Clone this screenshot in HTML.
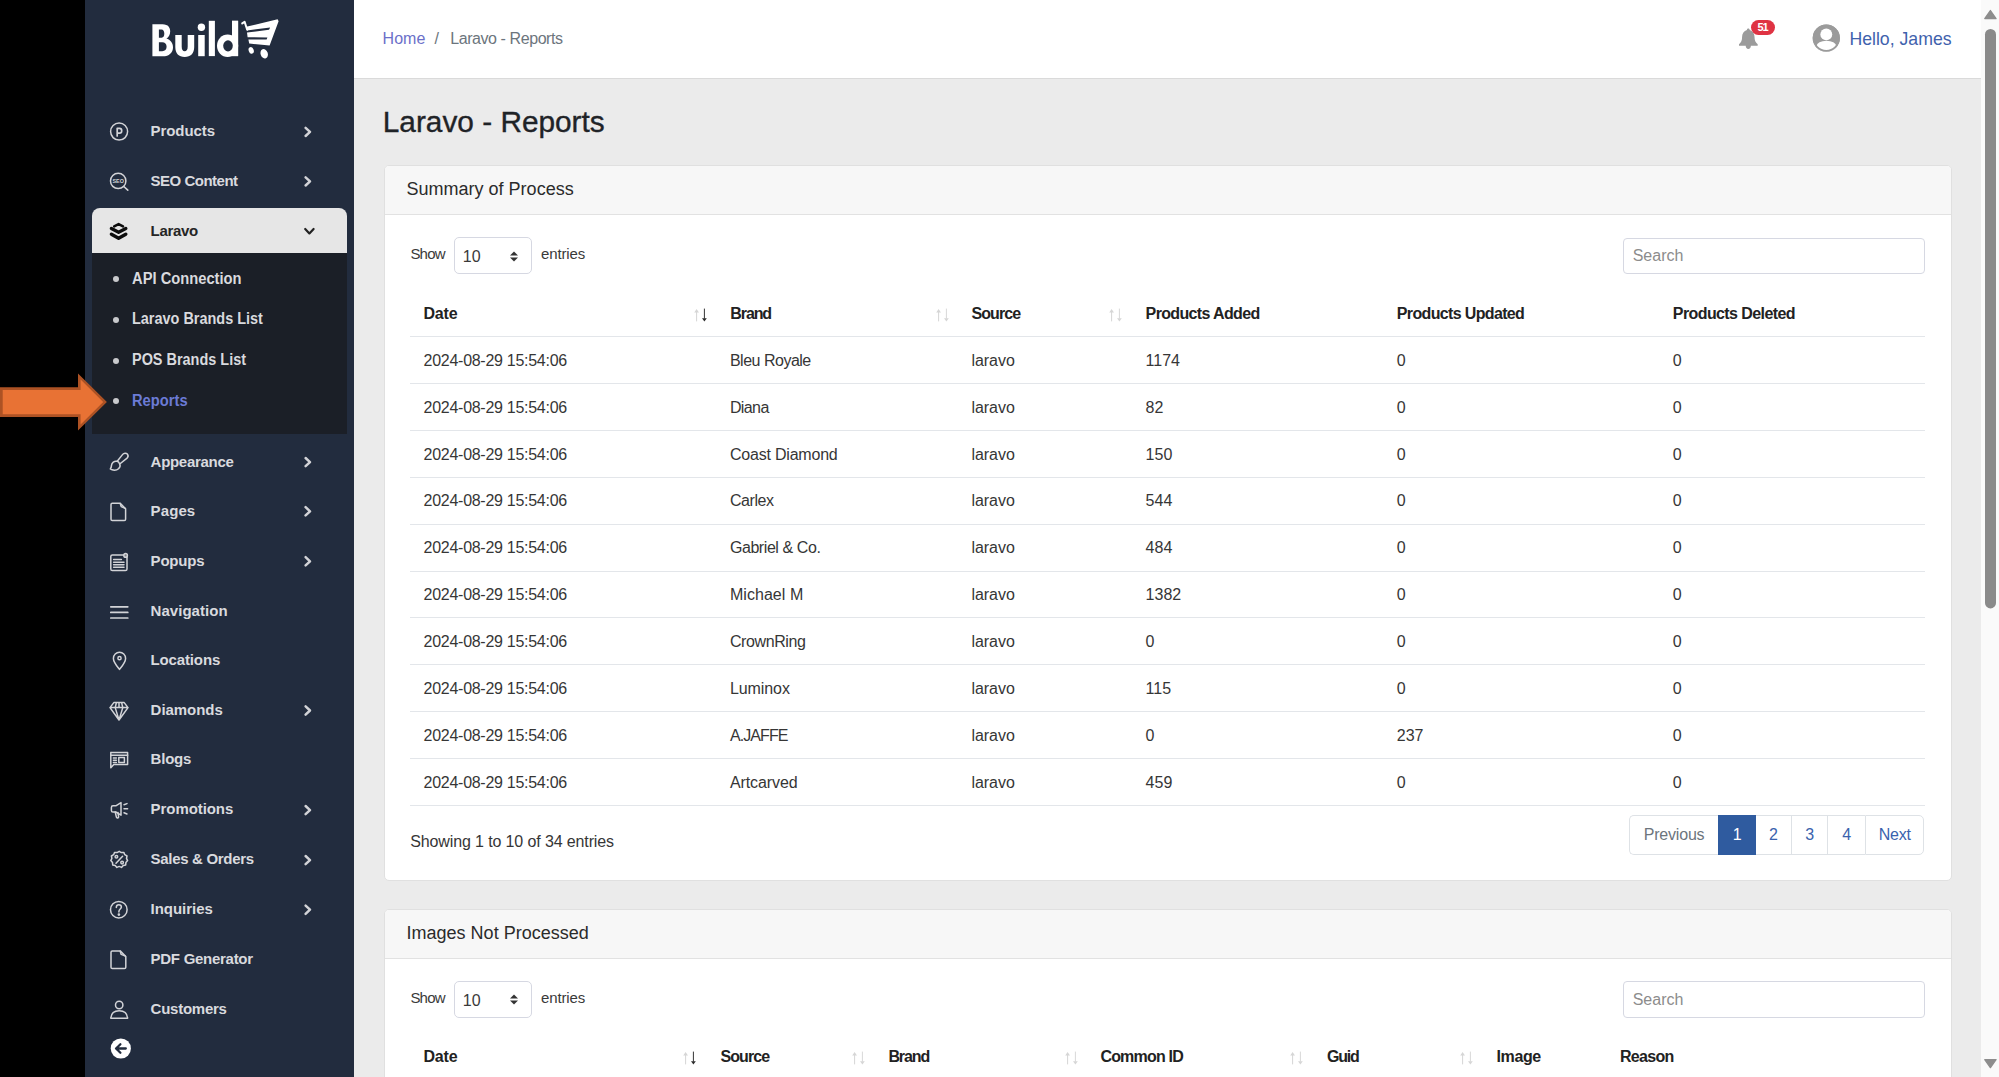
<!DOCTYPE html>
<html><head><meta charset="utf-8"><title>Laravo - Reports</title>
<style>
*{box-sizing:border-box;margin:0;padding:0}
html,body{width:1999px;height:1077px;overflow:hidden;background:#000;font-family:"Liberation Sans",sans-serif;}
#sb{position:absolute;left:85px;top:0;width:269px;height:1077px;background:#222c3e;overflow:hidden}
#sbsvg{position:absolute;left:0;top:0}
#actbox{position:absolute;left:7px;top:207.7px;width:255.3px;height:45.7px;background:#e6e6e6;border-radius:8px 8px 0 0}
#subbg{position:absolute;left:7px;top:253.4px;width:255.3px;height:181px;background:#1b1f27}
.mt{position:absolute;left:65.6px;height:20px;line-height:20px;font-size:15px;font-weight:bold;color:#d9dade;white-space:nowrap;letter-spacing:-0.15px}
.mt.dk{color:#252525}
.st{position:absolute;left:46.8px;height:20px;line-height:20px;font-size:15px;font-weight:bold;color:#d9dade;white-space:nowrap;letter-spacing:-0.15px}
.st.act{color:#6f7fe0;font-weight:normal;letter-spacing:0}
.bul{position:absolute;left:27.6px;width:6px;height:6px;border-radius:50%;background:#c8c9cc}
#arrow{position:absolute;left:0;top:372px}
#main{position:absolute;left:354px;top:0;width:1627px;height:1077px;background:#ebebeb}
#hdr{position:absolute;left:354px;top:0;width:1627px;height:79px;background:#fff;border-bottom:1px solid #dadada}
.tx{position:absolute;white-space:nowrap}
.abs{position:absolute}
.card{position:absolute;left:384px;width:1568px;background:#fff;border:1px solid #e0e0e0;border-radius:5px}
.chd{position:absolute;left:385px;width:1566px;height:49px;background:#f7f7f7;border-bottom:1px solid #e2e2e2;border-radius:4px 4px 0 0}
.sel{position:absolute;left:454.4px;width:78px;height:36.8px;border:1px solid #d6d8e2;border-radius:5px;background:#fff}
.srch{position:absolute;left:1623px;width:302px;height:36.6px;border:1px solid #d6d8e2;border-radius:4px;background:#fff}
.ln{position:absolute;left:410px;width:1515px;height:1px;background:#e3e6ea}
.pag{position:absolute;left:1629.4px;height:39.5px;width:295.1px;display:flex;background:transparent}
.pi{height:100%;border:1px solid #dee2e6;border-right:0;background:#fff;text-align:center;font-size:16px;line-height:37.5px;color:#3a62ad;letter-spacing:-0.2px}
.pi.on{background:#2f5b9f;color:#fff;border-color:#2f5b9f}
#scr{position:absolute;left:1981px;top:0;width:18px;height:1077px;background:#fafafa}
</style></head><body>
<div id="sb">
<div id="actbox"></div><div id="subbg"></div>

<svg id="sbsvg" width="269" height="1077" viewBox="85 0 269 1077">
 <!-- logo -->
 <g fill="#fff">
  <path fill-rule="evenodd" d="M152.4 24.2 H162.5 C168.5 24.2 170.2 28 170.2 31.2 C170.2 34.6 168.6 37.4 166.4 38.6 C170.4 39.8 173 43 173 47.4 C173 52.6 169.2 56.2 162.8 56.2 H152.4 Z M158.9 29.4 V37.7 H161.6 C163.6 37.7 164.3 35.8 164.3 33.5 C164.3 31.2 163.4 29.4 161.4 29.4 Z M158.9 42.3 V51.2 H162.2 C165 51.2 166.6 49.6 166.6 46.8 C166.6 44 165 42.3 162.2 42.3 Z"/>
  <path d="M175.3 35 H181.7 V46.5 C181.7 49.8 182.8 51.2 184.7 51.2 C186.6 51.2 187.7 49.8 187.7 46.5 V35 H194.2 V47 C194.2 53.5 190.6 57 184.7 57 C178.8 57 175.3 53.5 175.3 47 Z"/>
  <rect x="198.2" y="35" width="6.5" height="21.2"/>
  <circle cx="201.4" cy="27.2" r="3.7"/>
  <rect x="208.8" y="20.8" width="6.1" height="35.3"/>
  <rect x="232" y="20.8" width="6.1" height="35.3"/>
  <ellipse cx="227.6" cy="45.7" rx="10.6" ry="11.3"/><rect x="232" y="20.8" width="6.1" height="35.3"/><ellipse cx="228" cy="45.85" rx="4.8" ry="5.55" fill="#222c3e"/>
  <!-- cart -->
  <path d="M246.2 26.8 L277.6 19.2 L278.6 21.2 L269.6 45.6 L249.2 43.4 L248.4 39.6 L266.6 39.6 L267.4 37.6 L247.6 37.2 L247 32.6 L269 29.8 L270.2 27.6 L247 30.4 Z"/>
  <path d="M242.2 23.4 L244.6 21.8 L247.2 29.8" fill="none" stroke="#fff" stroke-width="2" stroke-linejoin="round" stroke-linecap="round"/>
  <ellipse cx="251.2" cy="50.4" rx="2.5" ry="3.4" transform="rotate(-20 251.2 50.4)"/>
  <ellipse cx="264.2" cy="53.8" rx="3.6" ry="4.8" transform="rotate(-20 264.2 53.8)"/>
 </g>
 <g fill="none" stroke="#d2d3d7" stroke-width="1.5" stroke-linecap="round" stroke-linejoin="round">
  <!-- products -->
  <circle cx="119.1" cy="131.6" r="8.5"/>
  <path d="M117.2 136 V128.3 H119.6 C121 128.3 121.7 129.3 121.7 130.7 C121.7 132.1 121 133.1 119.6 133.1 H117.2" stroke-width="1.7"/>
  <!-- seo -->
  <circle cx="118.2" cy="180.9" r="7.7"/>
  <path d="M123.8 186.5 L127.8 190.2" stroke-width="1.6"/>
  <!-- appearance brush -->
  <path d="M117.2 461.3 L122.7 454.4 C123.9 452.9 126.2 452.8 127.3 454.1 C128.4 455.4 128.1 457.3 126.8 458.4 L119.7 464"/>
  <path d="M117.2 461.3 C114.2 460.6 111.7 462.6 111.5 465.4 C111.4 467.1 110.9 468.2 110.3 468.9 C112.6 470.6 116.4 470.6 118.5 468.7 C120.2 467.1 120.4 465.3 119.7 464 C119.2 462.6 118.3 461.6 117.2 461.3 Z"/>
  <!-- pages -->
  <path d="M111 504.5 C111 503.7 111.5 503.2 112.3 503.2 H120.2 L125.6 508.8 V519.2 C125.6 520 125.1 520.5 124.3 520.5 H112.3 C111.5 520.5 111 520 111 519.2 Z"/>
  <path d="M120.2 503.6 L121.2 506.6 L125.2 508.4"/>
  <!-- popups -->
  <rect x="110.8" y="555" width="16.2" height="15.6" rx="1.6"/>
  <path d="M113.6 559.5 H121.4 M113.6 562.2 H124 M113.6 564.8 H124 M113.6 567.3 H124"/>
  <circle cx="125.6" cy="555.4" r="1.8" fill="#7d8088"/>
  <!-- navigation -->
  <path d="M110.8 606.8 H127.8 M110.8 612.4 H127.8 M110.8 618 H127.8" stroke-width="1.7"/>
  <!-- locations -->
  <path d="M119.5 669.4 C116.5 665.6 113.4 662 113.4 658.4 C113.4 654.8 116.2 652.2 119.5 652.2 C122.8 652.2 125.6 654.8 125.6 658.4 C125.6 662 122.5 665.6 119.5 669.4 Z"/>
  <circle cx="119.5" cy="658.2" r="1.6"/>
  <!-- diamonds -->
  <path d="M113.8 702.6 H124.2 L128 707.6 L119 720 L110 707.6 Z M110 707.6 H128 M116.4 702.6 L115.2 707.6 L119 720 L122.8 707.6 L121.6 702.6 M119 702.6 V707.6"/>
  <!-- blogs -->
  <path d="M111 752.4 H127.6 V764.6 H113.8 L110.8 767.8 V752.4"/>
  <path d="M111 755.2 H127.6" />
  <path d="M113.4 758 H116.4 M113.4 760.2 H116.4 M113.4 762.4 H116.4"/>
  <rect x="118.8" y="757.4" width="5.6" height="5.2"/>
  <!-- promotions -->
  <path d="M111.4 807.4 C111.4 806.4 112 805.8 113 805.8 H115.8 L121 802.6 V815.2 L115.8 812 H113 C112 812 111.4 811.4 111.4 810.4 Z"/>
  <path d="M115.2 812 L116.4 817.2 C116.6 818.2 118.6 818.2 118.6 817 L118 812.6"/>
  <path d="M124 804.8 L127 803.6 M124 808.8 H127.6 M124 812.8 L127 814"/>
  <!-- sales -->
  <path d="M119.2 851.3 L121.3 852.6 L123.8 852.4 L124.8 854.7 L127 856 L126.5 858.4 L127.6 860.6 L125.9 862.4 L125.7 864.9 L123.2 865.5 L121.5 867.4 L119.2 866.4 L116.9 867.4 L115.2 865.5 L112.7 864.9 L112.5 862.4 L110.8 860.6 L111.9 858.4 L111.4 856 L113.6 854.7 L114.6 852.4 L117.1 852.6 Z"/>
  <path d="M116 863.2 L122.6 856.2"/>
  <circle cx="116.4" cy="856.8" r="1.3"/>
  <circle cx="122.1" cy="862.6" r="1.3"/>
  <!-- inquiries -->
  <circle cx="118.8" cy="909.7" r="8.3"/>
  <path d="M116.3 907.4 C116.3 905.8 117.4 904.8 118.9 904.8 C120.4 904.8 121.4 905.8 121.4 907.1 C121.4 908.9 118.9 909.2 118.9 911.4 V912"/>
  <circle cx="118.9" cy="914.6" r="0.6" fill="#d2d3d7"/>
  <!-- pdf -->
  <path d="M111 952.2 C111 951.4 111.5 950.9 112.3 950.9 H120.2 L125.8 956.5 V967.3 C125.8 968.1 125.3 968.6 124.5 968.6 H112.3 C111.5 968.6 111 968.1 111 967.3 Z"/>
  <path d="M120.2 951.3 L121.2 954.4 L125.4 956.1"/>
  <!-- customers -->
  <circle cx="119.2" cy="1005" r="3.7"/>
  <path d="M110.8 1018.2 C111.2 1013.2 114.8 1010.8 119.2 1010.8 C123.6 1010.8 127.2 1013.2 127.6 1018.2 Z"/>
 </g>
 <!-- seo text -->
 <text x="118.2" y="182.9" font-family="Liberation Sans" font-weight="bold" font-size="5.4" fill="#d2d3d7" text-anchor="middle">SEO</text>
 <!-- back -->
 <circle cx="120.8" cy="1048.5" r="10.1" fill="#fff"/>
 <path d="M125.8 1048.5 H116.4 M120.4 1044.2 L116 1048.5 L120.4 1052.8" fill="none" stroke="#222c3e" stroke-width="2.3" stroke-linecap="round" stroke-linejoin="round"/>
 <!-- chevrons -->
 <g fill="none" stroke="#d2d3d7" stroke-width="2.5" stroke-linecap="round" stroke-linejoin="round">
  <path d="M305.6 127.8 L310 131.9 L305.6 136"/>
  <path d="M305.6 177.3 L310 181.4 L305.6 185.5"/>
  <path d="M305.6 458 L310 462.1 L305.6 466.2"/>
  <path d="M305.6 507.2 L310 511.3 L305.6 515.4"/>
  <path d="M305.6 557.2 L310 561.3 L305.6 565.4"/>
  <path d="M305.6 706.4 L310 710.5 L305.6 714.6"/>
  <path d="M305.6 806 L310 810.1 L305.6 814.2"/>
  <path d="M305.6 856 L310 860.1 L305.6 864.2"/>
  <path d="M305.6 905.6 L310 909.7 L305.6 913.8"/>
 </g>

 <!-- laravo layers (dark) -->
 <g fill="none" stroke="#0d0d0d" stroke-linecap="round" stroke-linejoin="round">
  <path d="M114.2 226.3 L118.6 224.1 L123 226.3" stroke-width="2.6"/>
  <path d="M111.4 228.6 L118.6 232.2 L125.8 228.6" stroke-width="3.4"/>
  <path d="M111.4 234.2 L118.6 238.2 L125.8 234.2" stroke-width="3.4"/>
 </g>
 <path d="M305.2 229 L309.4 233.4 L313.6 229" fill="none" stroke="#222" stroke-width="2.2" stroke-linecap="round" stroke-linejoin="round"/>
</svg>


<div class="tx" style="left:65.60px;top:120.82px;font-size:15px;line-height:19px;color:#d9dade;font-weight:bold;letter-spacing:-0.09px;">Products</div><div class="tx" style="left:65.60px;top:170.57px;font-size:15px;line-height:19px;color:#d9dade;font-weight:bold;letter-spacing:-0.5px;">SEO Content</div><div class="tx" style="left:65.60px;top:451.87px;font-size:15px;line-height:19px;color:#d9dade;font-weight:bold;letter-spacing:-0.3px;">Appearance</div><div class="tx" style="left:65.60px;top:500.57px;font-size:15px;line-height:19px;color:#d9dade;font-weight:bold;letter-spacing:0.1px;">Pages</div><div class="tx" style="left:65.60px;top:551.07px;font-size:15px;line-height:19px;color:#d9dade;font-weight:bold;letter-spacing:-0.2px;">Popups</div><div class="tx" style="left:65.60px;top:600.57px;font-size:15px;line-height:19px;color:#d9dade;font-weight:bold;letter-spacing:0.03px;">Navigation</div><div class="tx" style="left:65.60px;top:650.47px;font-size:15px;line-height:19px;color:#d9dade;font-weight:bold;letter-spacing:-0.15px;">Locations</div><div class="tx" style="left:65.60px;top:699.57px;font-size:15px;line-height:19px;color:#d9dade;font-weight:bold;letter-spacing:-0.04px;">Diamonds</div><div class="tx" style="left:65.60px;top:749.37px;font-size:15px;line-height:19px;color:#d9dade;font-weight:bold;letter-spacing:-0.22px;">Blogs</div><div class="tx" style="left:65.60px;top:799.17px;font-size:15px;line-height:19px;color:#d9dade;font-weight:bold;letter-spacing:-0.07px;">Promotions</div><div class="tx" style="left:65.60px;top:849.17px;font-size:15px;line-height:19px;color:#d9dade;font-weight:bold;letter-spacing:-0.31px;">Sales &amp; Orders</div><div class="tx" style="left:65.60px;top:898.77px;font-size:15px;line-height:19px;color:#d9dade;font-weight:bold;letter-spacing:-0.04px;">Inquiries</div><div class="tx" style="left:65.60px;top:948.97px;font-size:15px;line-height:19px;color:#d9dade;font-weight:bold;letter-spacing:-0.28px;">PDF Generator</div><div class="tx" style="left:65.60px;top:998.57px;font-size:15px;line-height:19px;color:#d9dade;font-weight:bold;letter-spacing:-0.25px;">Customers</div><div class="tx" style="left:46.60px;top:268.59px;font-size:16px;line-height:20px;color:#d9dade;font-weight:bold;transform:scaleX(0.92);transform-origin:0 0;">API Connection</div><div class="bul" style="top:276.00px"></div><div class="tx" style="left:46.60px;top:309.29px;font-size:16px;line-height:20px;color:#d9dade;font-weight:bold;transform:scaleX(0.903);transform-origin:0 0;">Laravo Brands List</div><div class="bul" style="top:316.70px"></div><div class="tx" style="left:46.60px;top:350.09px;font-size:16px;line-height:20px;color:#d9dade;font-weight:bold;transform:scaleX(0.903);transform-origin:0 0;">POS Brands List</div><div class="bul" style="top:357.50px"></div><div class="tx" style="left:46.60px;top:390.89px;font-size:16px;line-height:20px;color:#6b7bd6;font-weight:bold;transform:scaleX(0.919);transform-origin:0 0;">Reports</div><div class="bul" style="top:398.30px"></div><div class="tx" style="left:65.60px;top:221.37px;font-size:15px;line-height:19px;color:#252525;font-weight:bold;letter-spacing:-0.32px;">Laravo</div>
</div>
<svg id="arrow" width="110" height="62" viewBox="0 372 110 62">
 <path d="M0 387.3 H78 V373.6 L106.9 401.9 L78 430.6 V416.9 H0 Z" fill="#ad5224"/>
 <path d="M2.7 389.9 H80.6 V379.6 L103.2 401.9 L80.6 424.4 V414.3 H2.7 Z" fill="#e87234"/>
</svg>
<div id="main"></div>
<div id="hdr"></div>
<div class="tx" style="left:382.6px;top:29.8px;font-size:16px;color:#6b70c9">Home</div>
<div class="tx" style="left:434.5px;top:29.8px;font-size:16px;color:#6c757d">/</div>
<div class="tx" style="left:450.2px;top:29.8px;font-size:16px;color:#6c757d;letter-spacing:-0.42px">Laravo - Reports</div>
<svg class="abs" style="left:1736px;top:26px" width="24" height="25" viewBox="1736 26 24 25"><path fill="#9b9b9b" d="M1748.3 28.4 C1749.2 28.4 1749.7 29.1 1749.7 29.9 C1752.7 30.7 1754.5 33.4 1754.5 36.8 C1754.5 40.6 1755.5 42.5 1757.7 44.2 V45.7 H1739 V44.2 C1741.2 42.5 1742.1 40.6 1742.1 36.8 C1742.1 33.4 1744 30.7 1746.9 29.9 C1746.9 29.1 1747.4 28.4 1748.3 28.4 Z M1745.7 45.4 H1750.9 C1750.9 47.4 1749.8 48.9 1748.3 48.9 C1746.8 48.9 1745.7 47.4 1745.7 45.4 Z"/></svg>
<div class="abs" style="left:1750.8px;top:19.9px;width:24.2px;height:15px;border-radius:7.5px;background:#df3343;color:#fff;font-size:11px;font-weight:bold;line-height:15px;text-align:center;letter-spacing:-0.9px;text-indent:-0.6px">51</div>
<svg class="abs" style="left:1810px;top:22px" width="34" height="34" viewBox="1810 22 34 34">
<circle cx="1826.3" cy="38.1" r="13.6" fill="#9b9b9b"/>
<circle cx="1826.3" cy="34.4" r="5.95" fill="#fff"/>
<ellipse cx="1826.4" cy="46.2" rx="9.8" ry="5.5" fill="#fff"/>
<circle cx="1826.3" cy="38.1" r="12.75" fill="none" stroke="#9b9b9b" stroke-width="1.75"/></svg>
<div class="tx" style="left:1849.4px;top:29.2px;font-size:17.7px;color:#3f62ad">Hello, James</div>
<div class="tx" style="left:382.8px;top:104.8px;font-size:29.8px;color:#1f2327;-webkit-text-stroke:0.35px #1f2327">Laravo - Reports</div>
<div class="card" style="top:165px;height:716px"></div>
<div class="chd" style="top:166px"></div>
<div class="tx" style="left:406.60px;top:178.36px;font-size:18px;line-height:22px;color:#2b2b2b;">Summary of Process</div>
<div class="tx" style="left:410.40px;top:243.70px;font-size:15px;line-height:19px;color:#3a3a3a;letter-spacing:-0.8px;">Show</div>
<div class="sel" style="top:237.4px"></div>
<div class="tx" style="left:462.80px;top:247.06px;font-size:16px;line-height:20px;color:#3a3a3a;">10</div>
<svg class="abs" style="left:509px;top:250.6px" width="10" height="11" viewBox="0 0 10 11"><path d="M1 4.4 L5 0.6 L9 4.4 Z M1 6.6 L5 10.4 L9 6.6 Z" fill="#333"/></svg>
<div class="tx" style="left:540.90px;top:243.70px;font-size:15px;line-height:19px;color:#3a3a3a;letter-spacing:-0.1px;">entries</div>
<div class="srch" style="top:237.6px"></div>
<div class="tx" style="left:1632.70px;top:246.46px;font-size:16px;line-height:20px;color:#8c8c8c;">Search</div>
<div class="tx" style="left:423.50px;top:303.86px;font-size:16px;line-height:20px;color:#222;font-weight:bold;letter-spacing:-0.2px;">Date</div>
<div class="tx" style="left:730.30px;top:303.86px;font-size:16px;line-height:20px;color:#222;font-weight:bold;letter-spacing:-1.1px;">Brand</div>
<div class="tx" style="left:971.50px;top:303.86px;font-size:16px;line-height:20px;color:#222;font-weight:bold;letter-spacing:-0.92px;">Source</div>
<div class="tx" style="left:1145.60px;top:303.86px;font-size:16px;line-height:20px;color:#222;font-weight:bold;letter-spacing:-0.64px;">Products Added</div>
<div class="tx" style="left:1396.80px;top:303.86px;font-size:16px;line-height:20px;color:#222;font-weight:bold;letter-spacing:-0.65px;">Products Updated</div>
<div class="tx" style="left:1672.80px;top:303.86px;font-size:16px;line-height:20px;color:#222;font-weight:bold;letter-spacing:-0.59px;">Products Deleted</div>
<svg class="abs" style="left:693.6px;top:307.7px" width="14" height="15" viewBox="0 0 14 15"><path d="M2.6 13.4 V3.6" fill="none" stroke="#d6d6d6" stroke-width="1"/><path d="M0.2 4.4 L2.6 0.9 L5 4.4 Z" fill="#d6d6d6"/><path d="M10.4 0.6 V10.6" fill="none" stroke="#2a2a2a" stroke-width="0.95"/><path d="M8 10.2 L10.4 13.4 L12.8 10.2 Z" fill="#2a2a2a"/></svg>
<svg class="abs" style="left:935.6px;top:307.7px" width="14" height="15" viewBox="0 0 14 15"><path d="M2.6 13.4 V3.6" fill="none" stroke="#d6d6d6" stroke-width="1"/><path d="M0.2 4.4 L2.6 0.9 L5 4.4 Z" fill="#d6d6d6"/><path d="M10.4 0.6 V10.6" fill="none" stroke="#d6d6d6" stroke-width="0.95"/><path d="M8 10.2 L10.4 13.4 L12.8 10.2 Z" fill="#d6d6d6"/></svg>
<svg class="abs" style="left:1108.6px;top:307.7px" width="14" height="15" viewBox="0 0 14 15"><path d="M2.6 13.4 V3.6" fill="none" stroke="#d6d6d6" stroke-width="1"/><path d="M0.2 4.4 L2.6 0.9 L5 4.4 Z" fill="#d6d6d6"/><path d="M10.4 0.6 V10.6" fill="none" stroke="#d6d6d6" stroke-width="0.95"/><path d="M8 10.2 L10.4 13.4 L12.8 10.2 Z" fill="#d6d6d6"/></svg>
<div class="ln" style="top:336.00px"></div>
<div class="tx" style="left:423.60px;top:350.76px;font-size:16px;line-height:20px;color:#363636;letter-spacing:-0.278px;">2024-08-29 15:54:06</div>
<div class="tx" style="left:729.90px;top:350.76px;font-size:16px;line-height:20px;color:#363636;letter-spacing:-0.49px;">Bleu Royale</div>
<div class="tx" style="left:971.50px;top:350.76px;font-size:16px;line-height:20px;color:#363636;letter-spacing:-0.06px;">laravo</div>
<div class="tx" style="left:1145.60px;top:350.76px;font-size:16px;line-height:20px;color:#363636;letter-spacing:0px;">1174</div>
<div class="tx" style="left:1396.80px;top:350.76px;font-size:16px;line-height:20px;color:#363636;letter-spacing:0px;">0</div>
<div class="tx" style="left:1672.80px;top:350.76px;font-size:16px;line-height:20px;color:#363636;letter-spacing:0px;">0</div>
<div class="ln" style="top:382.90px"></div>
<div class="tx" style="left:423.60px;top:397.66px;font-size:16px;line-height:20px;color:#363636;letter-spacing:-0.278px;">2024-08-29 15:54:06</div>
<div class="tx" style="left:729.90px;top:397.66px;font-size:16px;line-height:20px;color:#363636;letter-spacing:-0.6px;">Diana</div>
<div class="tx" style="left:971.50px;top:397.66px;font-size:16px;line-height:20px;color:#363636;letter-spacing:-0.06px;">laravo</div>
<div class="tx" style="left:1145.60px;top:397.66px;font-size:16px;line-height:20px;color:#363636;letter-spacing:0px;">82</div>
<div class="tx" style="left:1396.80px;top:397.66px;font-size:16px;line-height:20px;color:#363636;letter-spacing:0px;">0</div>
<div class="tx" style="left:1672.80px;top:397.66px;font-size:16px;line-height:20px;color:#363636;letter-spacing:0px;">0</div>
<div class="ln" style="top:429.80px"></div>
<div class="tx" style="left:423.60px;top:444.56px;font-size:16px;line-height:20px;color:#363636;letter-spacing:-0.278px;">2024-08-29 15:54:06</div>
<div class="tx" style="left:729.90px;top:444.56px;font-size:16px;line-height:20px;color:#363636;letter-spacing:-0.2px;">Coast Diamond</div>
<div class="tx" style="left:971.50px;top:444.56px;font-size:16px;line-height:20px;color:#363636;letter-spacing:-0.06px;">laravo</div>
<div class="tx" style="left:1145.60px;top:444.56px;font-size:16px;line-height:20px;color:#363636;letter-spacing:0px;">150</div>
<div class="tx" style="left:1396.80px;top:444.56px;font-size:16px;line-height:20px;color:#363636;letter-spacing:0px;">0</div>
<div class="tx" style="left:1672.80px;top:444.56px;font-size:16px;line-height:20px;color:#363636;letter-spacing:0px;">0</div>
<div class="ln" style="top:476.70px"></div>
<div class="tx" style="left:423.60px;top:491.46px;font-size:16px;line-height:20px;color:#363636;letter-spacing:-0.278px;">2024-08-29 15:54:06</div>
<div class="tx" style="left:729.90px;top:491.46px;font-size:16px;line-height:20px;color:#363636;letter-spacing:-0.42px;">Carlex</div>
<div class="tx" style="left:971.50px;top:491.46px;font-size:16px;line-height:20px;color:#363636;letter-spacing:-0.06px;">laravo</div>
<div class="tx" style="left:1145.60px;top:491.46px;font-size:16px;line-height:20px;color:#363636;letter-spacing:0px;">544</div>
<div class="tx" style="left:1396.80px;top:491.46px;font-size:16px;line-height:20px;color:#363636;letter-spacing:0px;">0</div>
<div class="tx" style="left:1672.80px;top:491.46px;font-size:16px;line-height:20px;color:#363636;letter-spacing:0px;">0</div>
<div class="ln" style="top:523.60px"></div>
<div class="tx" style="left:423.60px;top:538.36px;font-size:16px;line-height:20px;color:#363636;letter-spacing:-0.278px;">2024-08-29 15:54:06</div>
<div class="tx" style="left:729.90px;top:538.36px;font-size:16px;line-height:20px;color:#363636;letter-spacing:-0.425px;">Gabriel &amp; Co.</div>
<div class="tx" style="left:971.50px;top:538.36px;font-size:16px;line-height:20px;color:#363636;letter-spacing:-0.06px;">laravo</div>
<div class="tx" style="left:1145.60px;top:538.36px;font-size:16px;line-height:20px;color:#363636;letter-spacing:0px;">484</div>
<div class="tx" style="left:1396.80px;top:538.36px;font-size:16px;line-height:20px;color:#363636;letter-spacing:0px;">0</div>
<div class="tx" style="left:1672.80px;top:538.36px;font-size:16px;line-height:20px;color:#363636;letter-spacing:0px;">0</div>
<div class="ln" style="top:570.50px"></div>
<div class="tx" style="left:423.60px;top:585.26px;font-size:16px;line-height:20px;color:#363636;letter-spacing:-0.278px;">2024-08-29 15:54:06</div>
<div class="tx" style="left:729.90px;top:585.26px;font-size:16px;line-height:20px;color:#363636;letter-spacing:0.06px;">Michael M</div>
<div class="tx" style="left:971.50px;top:585.26px;font-size:16px;line-height:20px;color:#363636;letter-spacing:-0.06px;">laravo</div>
<div class="tx" style="left:1145.60px;top:585.26px;font-size:16px;line-height:20px;color:#363636;letter-spacing:0px;">1382</div>
<div class="tx" style="left:1396.80px;top:585.26px;font-size:16px;line-height:20px;color:#363636;letter-spacing:0px;">0</div>
<div class="tx" style="left:1672.80px;top:585.26px;font-size:16px;line-height:20px;color:#363636;letter-spacing:0px;">0</div>
<div class="ln" style="top:617.40px"></div>
<div class="tx" style="left:423.60px;top:632.16px;font-size:16px;line-height:20px;color:#363636;letter-spacing:-0.278px;">2024-08-29 15:54:06</div>
<div class="tx" style="left:729.90px;top:632.16px;font-size:16px;line-height:20px;color:#363636;letter-spacing:-0.4px;">CrownRing</div>
<div class="tx" style="left:971.50px;top:632.16px;font-size:16px;line-height:20px;color:#363636;letter-spacing:-0.06px;">laravo</div>
<div class="tx" style="left:1145.60px;top:632.16px;font-size:16px;line-height:20px;color:#363636;letter-spacing:0px;">0</div>
<div class="tx" style="left:1396.80px;top:632.16px;font-size:16px;line-height:20px;color:#363636;letter-spacing:0px;">0</div>
<div class="tx" style="left:1672.80px;top:632.16px;font-size:16px;line-height:20px;color:#363636;letter-spacing:0px;">0</div>
<div class="ln" style="top:664.30px"></div>
<div class="tx" style="left:423.60px;top:679.06px;font-size:16px;line-height:20px;color:#363636;letter-spacing:-0.278px;">2024-08-29 15:54:06</div>
<div class="tx" style="left:729.90px;top:679.06px;font-size:16px;line-height:20px;color:#363636;letter-spacing:-0.08px;">Luminox</div>
<div class="tx" style="left:971.50px;top:679.06px;font-size:16px;line-height:20px;color:#363636;letter-spacing:-0.06px;">laravo</div>
<div class="tx" style="left:1145.60px;top:679.06px;font-size:16px;line-height:20px;color:#363636;letter-spacing:0px;">115</div>
<div class="tx" style="left:1396.80px;top:679.06px;font-size:16px;line-height:20px;color:#363636;letter-spacing:0px;">0</div>
<div class="tx" style="left:1672.80px;top:679.06px;font-size:16px;line-height:20px;color:#363636;letter-spacing:0px;">0</div>
<div class="ln" style="top:711.20px"></div>
<div class="tx" style="left:423.60px;top:725.96px;font-size:16px;line-height:20px;color:#363636;letter-spacing:-0.278px;">2024-08-29 15:54:06</div>
<div class="tx" style="left:729.90px;top:725.96px;font-size:16px;line-height:20px;color:#363636;letter-spacing:-0.9px;">A.JAFFE</div>
<div class="tx" style="left:971.50px;top:725.96px;font-size:16px;line-height:20px;color:#363636;letter-spacing:-0.06px;">laravo</div>
<div class="tx" style="left:1145.60px;top:725.96px;font-size:16px;line-height:20px;color:#363636;letter-spacing:0px;">0</div>
<div class="tx" style="left:1396.80px;top:725.96px;font-size:16px;line-height:20px;color:#363636;letter-spacing:0px;">237</div>
<div class="tx" style="left:1672.80px;top:725.96px;font-size:16px;line-height:20px;color:#363636;letter-spacing:0px;">0</div>
<div class="ln" style="top:758.10px"></div>
<div class="tx" style="left:423.60px;top:772.86px;font-size:16px;line-height:20px;color:#363636;letter-spacing:-0.278px;">2024-08-29 15:54:06</div>
<div class="tx" style="left:729.90px;top:772.86px;font-size:16px;line-height:20px;color:#363636;letter-spacing:-0.09px;">Artcarved</div>
<div class="tx" style="left:971.50px;top:772.86px;font-size:16px;line-height:20px;color:#363636;letter-spacing:-0.06px;">laravo</div>
<div class="tx" style="left:1145.60px;top:772.86px;font-size:16px;line-height:20px;color:#363636;letter-spacing:0px;">459</div>
<div class="tx" style="left:1396.80px;top:772.86px;font-size:16px;line-height:20px;color:#363636;letter-spacing:0px;">0</div>
<div class="tx" style="left:1672.80px;top:772.86px;font-size:16px;line-height:20px;color:#363636;letter-spacing:0px;">0</div>
<div class="ln" style="top:805.00px"></div>
<div class="tx" style="left:410.20px;top:832.06px;font-size:16px;line-height:20px;color:#363636;letter-spacing:-0.12px;">Showing 1 to 10 of 34 entries</div>
<div class="pag" style="top:815.3px">
<div class="pi" style="width:88.4px;color:#6c757d;border-radius:5px 0 0 5px">Previous</div>
<div class="pi on" style="width:37.8px">1</div>
<div class="pi" style="width:35.4px;border-left:0">2</div>
<div class="pi" style="width:36.5px">3</div>
<div class="pi" style="width:37.5px">4</div>
<div class="pi" style="width:59.5px;border-right:1px solid #dee2e6;border-radius:0 5px 5px 0">Next</div>
</div>
<div class="card" style="top:908.5px;height:300px"></div>
<div class="chd" style="top:909.5px"></div>
<div class="tx" style="left:406.60px;top:921.86px;font-size:18px;line-height:22px;color:#2b2b2b;">Images Not Processed</div>
<div class="tx" style="left:410.40px;top:987.50px;font-size:15px;line-height:19px;color:#3a3a3a;letter-spacing:-0.8px;">Show</div>
<div class="sel" style="top:981.2px"></div>
<div class="tx" style="left:462.80px;top:990.86px;font-size:16px;line-height:20px;color:#3a3a3a;">10</div>
<svg class="abs" style="left:509px;top:994.4px" width="10" height="11" viewBox="0 0 10 11"><path d="M1 4.4 L5 0.6 L9 4.4 Z M1 6.6 L5 10.4 L9 6.6 Z" fill="#333"/></svg>
<div class="tx" style="left:540.90px;top:987.50px;font-size:15px;line-height:19px;color:#3a3a3a;letter-spacing:-0.1px;">entries</div>
<div class="srch" style="top:981.4000000000001px"></div>
<div class="tx" style="left:1632.70px;top:990.26px;font-size:16px;line-height:20px;color:#8c8c8c;">Search</div>
<div class="tx" style="left:423.50px;top:1046.66px;font-size:16px;line-height:20px;color:#222;font-weight:bold;letter-spacing:-0.2px;">Date</div>
<div class="tx" style="left:720.50px;top:1046.66px;font-size:16px;line-height:20px;color:#222;font-weight:bold;letter-spacing:-0.92px;">Source</div>
<div class="tx" style="left:888.40px;top:1046.66px;font-size:16px;line-height:20px;color:#222;font-weight:bold;letter-spacing:-1.1px;">Brand</div>
<div class="tx" style="left:1100.40px;top:1046.66px;font-size:16px;line-height:20px;color:#222;font-weight:bold;letter-spacing:-0.8px;">Common ID</div>
<div class="tx" style="left:1327.00px;top:1046.66px;font-size:16px;line-height:20px;color:#222;font-weight:bold;letter-spacing:-1.2px;">Guid</div>
<div class="tx" style="left:1496.50px;top:1046.66px;font-size:16px;line-height:20px;color:#222;font-weight:bold;letter-spacing:-0.37px;">Image</div>
<div class="tx" style="left:1620.00px;top:1046.66px;font-size:16px;line-height:20px;color:#222;font-weight:bold;letter-spacing:-0.7px;">Reason</div>
<svg class="abs" style="left:683.4px;top:1050.5px" width="14" height="15" viewBox="0 0 14 15"><path d="M2.6 13.4 V3.6" fill="none" stroke="#d6d6d6" stroke-width="1"/><path d="M0.2 4.4 L2.6 0.9 L5 4.4 Z" fill="#d6d6d6"/><path d="M10.4 0.6 V10.6" fill="none" stroke="#2a2a2a" stroke-width="0.95"/><path d="M8 10.2 L10.4 13.4 L12.8 10.2 Z" fill="#2a2a2a"/></svg>
<svg class="abs" style="left:852.0px;top:1050.5px" width="14" height="15" viewBox="0 0 14 15"><path d="M2.6 13.4 V3.6" fill="none" stroke="#d6d6d6" stroke-width="1"/><path d="M0.2 4.4 L2.6 0.9 L5 4.4 Z" fill="#d6d6d6"/><path d="M10.4 0.6 V10.6" fill="none" stroke="#d6d6d6" stroke-width="0.95"/><path d="M8 10.2 L10.4 13.4 L12.8 10.2 Z" fill="#d6d6d6"/></svg>
<svg class="abs" style="left:1064.6px;top:1050.5px" width="14" height="15" viewBox="0 0 14 15"><path d="M2.6 13.4 V3.6" fill="none" stroke="#d6d6d6" stroke-width="1"/><path d="M0.2 4.4 L2.6 0.9 L5 4.4 Z" fill="#d6d6d6"/><path d="M10.4 0.6 V10.6" fill="none" stroke="#d6d6d6" stroke-width="0.95"/><path d="M8 10.2 L10.4 13.4 L12.8 10.2 Z" fill="#d6d6d6"/></svg>
<svg class="abs" style="left:1290.2px;top:1050.5px" width="14" height="15" viewBox="0 0 14 15"><path d="M2.6 13.4 V3.6" fill="none" stroke="#d6d6d6" stroke-width="1"/><path d="M0.2 4.4 L2.6 0.9 L5 4.4 Z" fill="#d6d6d6"/><path d="M10.4 0.6 V10.6" fill="none" stroke="#d6d6d6" stroke-width="0.95"/><path d="M8 10.2 L10.4 13.4 L12.8 10.2 Z" fill="#d6d6d6"/></svg>
<svg class="abs" style="left:1460.4px;top:1050.5px" width="14" height="15" viewBox="0 0 14 15"><path d="M2.6 13.4 V3.6" fill="none" stroke="#d6d6d6" stroke-width="1"/><path d="M0.2 4.4 L2.6 0.9 L5 4.4 Z" fill="#d6d6d6"/><path d="M10.4 0.6 V10.6" fill="none" stroke="#d6d6d6" stroke-width="0.95"/><path d="M8 10.2 L10.4 13.4 L12.8 10.2 Z" fill="#d6d6d6"/></svg>

<div id="scr"></div>
<svg class="abs" style="left:1981px;top:0" width="18" height="1077" viewBox="1981 0 18 1077">
 <path d="M1990.4 10.6 L1996 18.6 H1984.8 Z" fill="#8d8d8d" stroke="#8d8d8d" stroke-width="1.4" stroke-linejoin="round"/>
 <rect x="1985" y="29" width="11" height="579.4" rx="5.5" fill="#8a8a8a"/>
 <path d="M1990.4 1067.6 L1996 1059.6 H1984.8 Z" fill="#8d8d8d" stroke="#8d8d8d" stroke-width="1.4" stroke-linejoin="round"/>
</svg>
</body></html>
